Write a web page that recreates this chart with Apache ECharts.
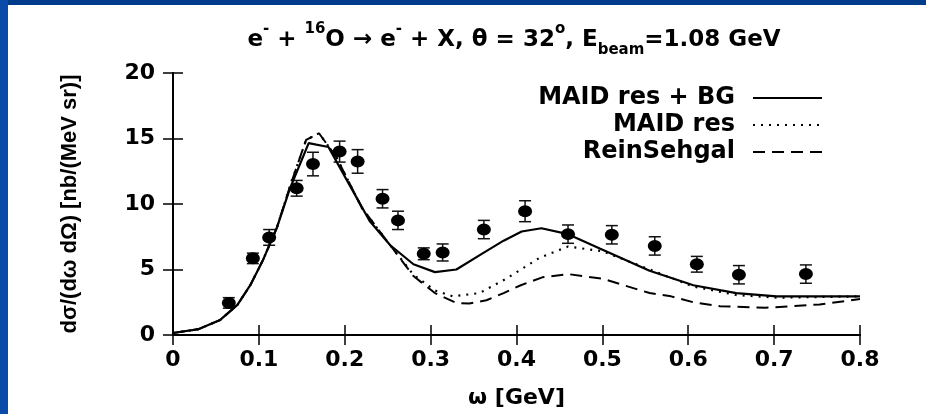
<!DOCTYPE html>
<html>
<head>
<meta charset="utf-8">
<script src="https://cdn.jsdelivr.net/npm/echarts@6/dist/echarts.min.js"></script>
<style>
  html, body { margin: 0; padding: 0; background: #fff; }
  #chart { width: 926px; height: 414px; }
</style>
</head>
<body>
<div id="chart"></div>
<script>
// measured points (omega in GeV, cross section nb/(MeV sr))
const expOmega = [0.065, 0.093, 0.112, 0.144, 0.163, 0.194, 0.215, 0.244, 0.262, 0.292, 0.314, 0.362, 0.41, 0.46, 0.511, 0.561, 0.61, 0.659, 0.737];
const expSigma = [2.45, 5.85, 7.45, 11.2, 13.05, 14.0, 13.25, 10.4, 8.75, 6.2, 6.3, 8.05, 9.45, 7.7, 7.65, 6.8, 5.4, 4.6, 4.65];
const expErr = [0.4, 0.4, 0.6, 0.6, 0.9, 0.8, 0.9, 0.7, 0.7, 0.45, 0.65, 0.7, 0.8, 0.7, 0.7, 0.7, 0.6, 0.7, 0.7];

// MAID res + BG (solid)
const bgOmega = [0, 0.03, 0.055, 0.075, 0.09, 0.105, 0.121, 0.136, 0.158, 0.181, 0.206, 0.229, 0.253, 0.28, 0.305, 0.33, 0.361, 0.385, 0.406, 0.429, 0.46, 0.497, 0.555, 0.606, 0.656, 0.703, 0.8];
const bgSigma = [0.15, 0.45, 1.15, 2.3, 3.8, 5.75, 8.2, 11.15, 14.65, 14.35, 11.4, 8.7, 6.85, 5.4, 4.8, 5.0, 6.25, 7.2, 7.9, 8.15, 7.7, 6.6, 4.9, 3.8, 3.2, 2.95, 2.95];

// MAID res (dotted)
const resOmega = [0, 0.03, 0.055, 0.075, 0.09, 0.105, 0.121, 0.136, 0.155, 0.17, 0.19, 0.22, 0.253, 0.28, 0.305, 0.326, 0.357, 0.388, 0.427, 0.46, 0.5, 0.555, 0.606, 0.656, 0.703, 0.8];
const resSigma = [0.15, 0.45, 1.15, 2.3, 3.8, 5.75, 8.2, 11.3, 14.9, 15.4, 13.6, 9.7, 6.85, 4.6, 3.4, 2.95, 3.2, 4.3, 5.9, 6.75, 6.4, 5.0, 3.7, 3.05, 2.85, 2.95];

// ReinSehgal (dashed)
const rsOmega = [0, 0.03, 0.055, 0.075, 0.09, 0.105, 0.121, 0.136, 0.155, 0.17, 0.19, 0.22, 0.253, 0.28, 0.305, 0.33, 0.345, 0.365, 0.385, 0.405, 0.43, 0.46, 0.5, 0.555, 0.58, 0.606, 0.637, 0.69, 0.753, 0.8];
const rsSigma = [0.15, 0.45, 1.15, 2.3, 3.8, 5.75, 8.2, 11.3, 14.9, 15.4, 13.6, 9.7, 6.85, 4.5, 3.2, 2.45, 2.4, 2.65, 3.2, 3.8, 4.4, 4.65, 4.3, 3.2, 2.95, 2.5, 2.2, 2.08, 2.33, 2.75];

const legendNames = ['MAID res + BG', 'MAID res', 'ReinSehgal'];

function pairs(xs, ys) {
  return xs.map(function (x, i) { return [x, ys[i]]; });
}

var chart = echarts.init(document.getElementById('chart'));

var boldWide = { fontFamily: 'DejaVu Sans', fontWeight: 'bold', color: '#000' };

var option = {
  backgroundColor: '#fff',
  animation: false,
  graphic: [
    { type: 'rect', left: 0, top: 0, shape: { width: 926, height: 5 }, style: { fill: '#003b8c' }, z: 100 },
    { type: 'rect', left: 0, top: 0, shape: { width: 8, height: 414 }, style: { fill: '#0a4aa8' }, z: 100 },
    {
      type: 'text', x: 514, y: 40, z: 100,
      style: {
        text: '{b|e}{sup|-}{b| + }{sup|16}{b|O → e}{sup|-}{b| + X, θ = 32}{sup|o}{b|, E}{sub|beam}{b|=1.08 GeV}',
        align: 'center', verticalAlign: 'middle', fill: '#000',
        rich: {
          b: { fontFamily: 'DejaVu Sans', fontWeight: 'bold', fontSize: 23, lineHeight: 36, verticalAlign: 'middle' },
          sup: { fontFamily: 'DejaVu Sans', fontWeight: 'bold', fontSize: 15, lineHeight: 15, verticalAlign: 'top' },
          sub: { fontFamily: 'DejaVu Sans', fontWeight: 'bold', fontSize: 15, lineHeight: 15, verticalAlign: 'bottom' }
        }
      }
    }
  ],
  legend: {
    data: legendNames,
    orient: 'vertical',
    align: 'right',
    right: 98,
    top: 81,
    itemWidth: 69,
    itemHeight: 14,
    itemGap: 3,
    selectedMode: false,
    itemStyle: { color: 'rgba(0,0,0,0)', borderColor: 'rgba(0,0,0,0)', borderWidth: 0 },
    textStyle: Object.assign({ fontSize: 24, padding: [0, 13, 0, 0] }, boldWide)
  },
  grid: { left: 173, right: 66, top: 73, bottom: 69 },
  xAxis: [
    {
      type: 'value', min: 0, max: 0.8, interval: 0.1,
      name: 'ω [GeV]', nameLocation: 'middle', nameGap: 52,
      nameTextStyle: Object.assign({ fontSize: 22 }, boldWide),
      axisLine: { lineStyle: { color: '#000', width: 2 } },
      axisTick: { inside: true, length: 10, lineStyle: { color: '#000', width: 1.5 } },
      axisLabel: Object.assign({ fontSize: 22, margin: 14 }, boldWide),
      splitLine: { show: false }
    },
    {
      type: 'value', position: 'top', min: 0, max: 0.8, interval: 0.1,
      axisLine: { lineStyle: { color: '#000', width: 2 } },
      axisTick: { inside: true, length: 10, lineStyle: { color: '#000', width: 1.5 } },
      axisLabel: { show: false },
      splitLine: { show: false }
    }
  ],
  yAxis: [
    {
      type: 'value', min: 0, max: 20, interval: 5,
      name: 'dσ/(dω dΩ) [nb/(MeV sr)]', nameLocation: 'middle', nameGap: 92,
      nameTextStyle: { fontFamily: 'Liberation Sans', fontWeight: 'bold', fontSize: 22, color: '#000' },
      axisLine: { lineStyle: { color: '#000', width: 2 } },
      axisTick: { inside: true, length: 10, lineStyle: { color: '#000', width: 1.5 } },
      axisLabel: Object.assign({ fontSize: 22, margin: 18 }, boldWide),
      splitLine: { show: false }
    },
    {
      type: 'value', position: 'right', min: 0, max: 20, interval: 5,
      axisLine: { show: true, lineStyle: { color: '#000', width: 2 } },
      axisTick: { show: true, inside: true, length: 10, lineStyle: { color: '#000', width: 1.5 } },
      axisLabel: { show: false },
      splitLine: { show: false }
    }
  ],
  series: [
    {
      name: legendNames[0], type: 'line', symbol: 'none',
      data: pairs(bgOmega, bgSigma),
      itemStyle: { color: '#000' },
      lineStyle: { color: '#000', width: 2.2, type: 'solid' }
    },
    {
      name: legendNames[1], type: 'line', symbol: 'none',
      data: pairs(resOmega, resSigma),
      itemStyle: { color: '#000' },
      lineStyle: { color: '#000', width: 2.2, type: [2, 6] }
    },
    {
      name: legendNames[2], type: 'line', symbol: 'none',
      data: pairs(rsOmega, rsSigma),
      itemStyle: { color: '#000' },
      lineStyle: { color: '#000', width: 2, type: [12, 7] }
    },
    {
      name: 'errors', type: 'custom',
      data: expOmega.map(function (x, i) { return [x, expSigma[i] - expErr[i], expSigma[i] + expErr[i]]; }),
      renderItem: function (params, api) {
        var lo = api.coord([api.value(0), api.value(1)]);
        var hi = api.coord([api.value(0), api.value(2)]);
        var w = 6;
        var st = { stroke: '#111', lineWidth: 1.5 };
        return {
          type: 'group',
          children: [
            { type: 'line', shape: { x1: lo[0], y1: lo[1], x2: hi[0], y2: hi[1] }, style: st },
            { type: 'line', shape: { x1: lo[0] - w, y1: lo[1], x2: lo[0] + w, y2: lo[1] }, style: st },
            { type: 'line', shape: { x1: hi[0] - w, y1: hi[1], x2: hi[0] + w, y2: hi[1] }, style: st }
          ]
        };
      },
      z: 3
    },
    {
      name: 'data', type: 'scatter',
      data: pairs(expOmega, expSigma),
      symbol: 'circle', symbolSize: [14, 12],
      itemStyle: { color: '#000', opacity: 1 },
      z: 4
    }
  ]
};

chart.setOption(option);
</script>
</body>
</html>
